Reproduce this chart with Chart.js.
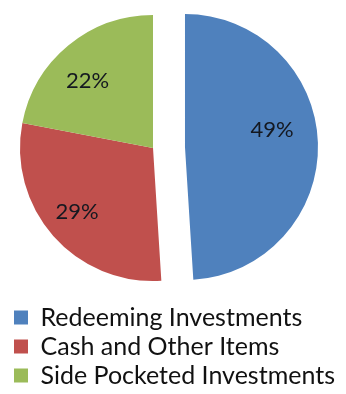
<!DOCTYPE html>
<html>
<head>
<meta charset="utf-8">
<title>Portfolio split</title>
<script src="https://cdn.jsdelivr.net/npm/chart.js@4/dist/chart.umd.min.js"></script>
<style>
    html, body { margin: 0; padding: 0; background: #fff; }
    .m-chart { position: relative; width: 346px; height: 394px; overflow: hidden; }
    .m-chart canvas { position: absolute; left: 0; top: -5px; }
</style>
</head>
<body>
<div class="m-chart">
    <canvas id="myChart" width="346" height="403"></canvas>
</div>
<script>
// data
const categories = ['Redeeming Investments', 'Cash and Other Items', 'Side Pocketed Investments'];
const shares = [49, 29, 22];
const shareLabels = ['49%', '29%', '22%'];
const sliceColors = ['#4F81BD', '#C0504D', '#9BBB59'];

// move the whole pie sideways, then pull one slice out (keeps its radius)
const explodePlugin = {
    id: 'explode',
    afterDatasetUpdate(chart, args, opts) {
        args.meta.data.forEach((arc, i) => {
            arc.x += opts.shiftX;
            if (i === opts.index) {
                const mid = (arc.startAngle + arc.endAngle) / 2;
                arc.x += Math.cos(mid) * opts.distance;
                arc.y += Math.sin(mid) * opts.distance;
            }
        });
    }
};

// percentage text inside each slice
const sliceLabelPlugin = {
    id: 'sliceLabels',
    afterDatasetsDraw(chart, args, opts) {
        const ctx = chart.ctx;
        const meta = chart.getDatasetMeta(0);
        ctx.save();
        ctx.font = opts.font;
        ctx.fillStyle = opts.color;
        ctx.textAlign = 'center';
        ctx.textBaseline = 'middle';
        meta.data.forEach((arc, i) => {
            const mid = (arc.startAngle + arc.endAngle) / 2;
            const r = arc.outerRadius * opts.ratio;
            const nudge = opts.nudge[i] || [0, 0];
            ctx.fillText(shareLabels[i],
                arc.x + Math.cos(mid) * r + nudge[0],
                arc.y + Math.sin(mid) * r + nudge[1]);
        });
        ctx.restore();
    }
};

const ctx = document.getElementById('myChart').getContext('2d');
const myChart = new Chart(ctx, {
    type: 'pie',
    data: {
        labels: categories,
        datasets: [{
            data: shares,
            backgroundColor: sliceColors,
            borderWidth: 0
        }]
    },
    options: {
        responsive: false,
        animation: false,
        events: [],
        radius: 133,
        layout: {
            padding: { left: 10, right: 0, top: 0, bottom: 0 }
        },
        plugins: {
            tooltip: { enabled: false },
            legend: {
                position: 'bottom',
                align: 'start',
                labels: {
                    boxWidth: 14,
                    boxHeight: 14,
                    padding: 4,
                    color: '#111',
                    font: { family: 'Lato', size: 25 }
                }
            },
            explode: { index: 0, distance: 32, shiftX: -25 },
            sliceLabels: {
                font: '22px Lato',
                color: '#141820',
                ratio: 0.7,
                nudge: [[-6, -14], [-6, 2], [-6, 5]]
            }
        }
    },
    plugins: [explodePlugin, sliceLabelPlugin]
});
</script>
</body>
</html>
